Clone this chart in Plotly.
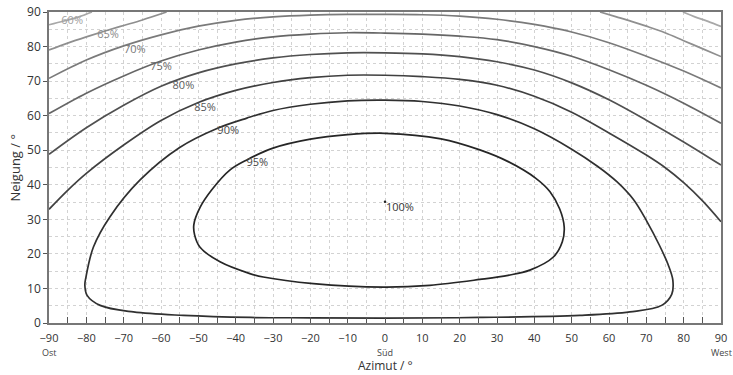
import plotly.graph_objects as go

# ---- data (azimuth in deg, tilt in deg) ----
AZ_60 = [-90, -86, -82, -78.5, None, 79.8, 83, 86.5, 90]
TILT_60 = [86.3, 87.4, 88.6, 90, None, 90, 88.6, 87.3, 85.8]

AZ_65 = [-90, -85, -80, -75, -70, -65, -58.5, None, 57.6, 62, 66, 70, 75, 80, 85, 90]
TILT_65 = [79.0, 81.0, 82.8, 84.5, 86.1, 87.7, 90, None, 90, 88.6, 87.3, 85.9, 84.0, 81.7, 79.4, 77.1]

AZ_70 = [-90, -80, -70, -60, -50, -40, -30, -20, -10, 0, 10, 20, 30, 40, 50, 60, 70, 80, 90]
TILT_70 = [70.8, 76.1, 80.2, 83.4, 85.9, 87.6, 88.6, 89.1, 89.3, 89.3, 89.2, 88.8, 87.9, 86.4, 84.2, 81.1, 77.2, 72.9, 68.0]

AZ_75 = [-90, -80, -70, -60, -50, -40, -30, -20, -10, 0, 10, 20, 30, 40, 50, 60, 70, 80, 90]
TILT_75 = [60.6, 66.5, 71.5, 75.8, 79.0, 81.3, 82.8, 83.6, 84.0, 83.9, 83.6, 83.0, 82.0, 80.0, 77.2, 73.3, 68.8, 63.6, 57.8]

AZ_80 = [-90, -80, -70, -60, -50, -40, -30, -20, -10, 0, 10, 20, 30, 40, 50, 60, 70, 80, 90]
TILT_80 = [48.8, 56.5, 63.0, 68.5, 72.4, 75.0, 76.7, 77.7, 78.2, 78.2, 77.9, 77.1, 75.6, 73.2, 69.5, 64.6, 58.7, 52.4, 45.7]

AZ_85 = [-90, -85, -80, -70, -60, -50, -40, -30, -20, -10, 0, 10, 20, 30, 40, 50, 60, 70, 75, 80, 85, 90]
TILT_85 = [32.9, 38.4, 43.3, 51.5, 58.6, 63.8, 67.3, 69.6, 71.0, 71.7, 71.7, 71.3, 70.5, 68.8, 65.6, 61.0, 55.0, 48.6, 45.0, 40.6, 35.4, 29.3]

AZ_90 = [-36, -54, -67.4, -76.3, -79.8, -80.4, -80.1, -78.1, -73.7, -65.6, -55, -45, -37, -30, -20, -10, 0, 10, 20, 30, 40, 50, 57,
         62.1, 66.5, 70.1, 73.5, 75.8, 77.1, 76.8, 74.1, 65.6, 52.2, 25.4, 0, -20, -36]
TILT_90 = [1.6, 2.2, 3.2, 5.1, 8.0, 11.0, 13.3, 22.0, 30.7, 41.4, 50.8, 56.3, 59.3, 61.5, 63.3, 64.3, 64.5, 64.1, 62.8, 60.3, 56.2, 50.3, 45.3,
           40.9, 35.8, 29.5, 22.5, 17.0, 12.4, 8.3, 5.1, 3.2, 2.2, 1.6, 1.4, 1.5, 1.6]

AZ_95 = [0, -10, -20, -30, -37, -41.5, -46.5, -49.5, -51.2, -51.0, -49.6, -44.2, -36.2, -32.6, -19.2, -0.4, 12, 25.4, 33, 38.8, 45.1, 47.5, 48, 46.8,
         44.2, 40.5, 33, 25.4, 15, 0]
TILT_95 = [54.9, 54.5, 53.2, 50.6, 47.2, 44.3, 38.4, 33.5, 28.5, 25.5, 22.0, 17.7, 14.3, 13.3, 11.4, 10.4, 10.9, 12.6, 13.8, 15.3, 19.1, 23.5, 27.8, 33.0,
           38.0, 41.8, 46.7, 50.1, 53.3, 54.9]

LEVELS = ["60%", "65%", "70%", "75%", "80%", "85%", "90%", "95%"]
LABEL_AZ = [-83.8, -74.2, -67.0, -60.0, -54.0, -48.2, -42.0, -34.2]
LABEL_TILT = [87.3, 83.4, 79.0, 74.1, 68.4, 62.1, 55.4, 46.1]

PEAK_AZ = [0]
PEAK_TILT = [35.1]
PEAK_LABEL = "100%"
PEAK_LABEL_AZ = 4.0
PEAK_LABEL_TILT = 33.2

X_TICKS = list(range(-90, 91, 10))
Y_TICKS = list(range(0, 91, 10))
DIRECTIONS = ["Ost", "Süd", "West"]
DIRECTION_AZ = [-90, 0, 90]
DIRECTION_ANCHOR = ["center", "center", "right"]
DIRECTION_SHIFT = [0, 0, 12]

# ---- styling ----
LINE_COLORS = ["#a8a8a8", "#8f8f8f", "#7a7a7a", "#666666", "#505050", "#404040", "#303030", "#262626"]
LABEL_COLORS = ["#a0a0a0", "#8a8a8a", "#777777", "#6a6a6a", "#5e5e5e", "#555555", "#4a4a4a", "#444444"]
FONT = "Open Sans"

fig = go.Figure()
series = [(AZ_60, TILT_60), (AZ_65, TILT_65), (AZ_70, TILT_70), (AZ_75, TILT_75),
          (AZ_80, TILT_80), (AZ_85, TILT_85), (AZ_90, TILT_90), (AZ_95, TILT_95)]
for (ax, ty), name, col in zip(series, LEVELS, LINE_COLORS):
    fig.add_trace(go.Scatter(x=ax, y=ty, mode="lines", name=name,
                             line=dict(color=col, width=1.7, shape="spline", smoothing=1.0),
                             connectgaps=False, hoverinfo="skip"))

fig.add_trace(go.Scatter(x=PEAK_AZ, y=PEAK_TILT, mode="markers",
                         marker=dict(size=2.5, color="#222222"), hoverinfo="skip"))

fig.add_trace(go.Scatter(x=LABEL_AZ, y=LABEL_TILT, mode="text", text=LEVELS,
                         textfont=dict(family=FONT, size=11, color=LABEL_COLORS),
                         hoverinfo="skip"))
fig.add_trace(go.Scatter(x=[PEAK_LABEL_AZ], y=[PEAK_LABEL_TILT], mode="text", text=[PEAK_LABEL],
                         textfont=dict(family=FONT, size=11, color="#333333"), hoverinfo="skip"))

annotations = []
for lab, az, anc, sh in zip(DIRECTIONS, DIRECTION_AZ, DIRECTION_ANCHOR, DIRECTION_SHIFT):
    annotations.append(dict(x=az, y=0, xref="x", yref="paper", text=lab, showarrow=False,
                            xanchor=anc, xshift=sh, yanchor="middle", borderpad=0,
                            yshift=-29.5, font=dict(family=FONT, size=9, color="#444444")))
annotations.append(dict(x=0, y=0, xref="x", yref="paper", text="Azimut / °", showarrow=False,
                        yanchor="bottom", yshift=-52, borderpad=0,
                        font=dict(family=FONT, size=12, color="#333333")))
annotations.append(dict(x=0, y=0.5, xref="paper", yref="paper", text="Neigung / °", showarrow=False,
                        xanchor="center", xshift=-35, yshift=0, textangle=-90,
                        font=dict(family=FONT, size=13, color="#333333")))

fig.update_layout(
    width=733, height=375,
    margin=dict(l=49, r=12, t=12, b=52, autoexpand=False),
    plot_bgcolor="white", paper_bgcolor="white",
    showlegend=False,
    annotations=annotations,
    font=dict(family=FONT, size=12, color="#333333"),
)
fig.update_xaxes(
    range=[-90, 90], tickvals=X_TICKS, ticks="inside", ticklen=6, tickcolor="#555555", tickwidth=1,
    showline=True, linecolor="#777777", linewidth=1.5, mirror=True, automargin=False,
    showgrid=True, gridcolor="#d2d2d2", griddash="dot", gridwidth=1,
    minor=dict(dtick=5, ticks="inside", ticklen=6, tickcolor="#555555", showgrid=True,
               gridcolor="#d2d2d2", griddash="dot", gridwidth=1),
    zeroline=False, tickfont=dict(family=FONT, size=11, color="#333333"),
    ticklabelstandoff=4,
)
fig.update_yaxes(
    range=[0, 90], tickvals=Y_TICKS, ticks="outside", ticklen=4, tickcolor="#555555",
    showline=True, linecolor="#777777", linewidth=1.5, mirror=True, automargin=False,
    showgrid=True, gridcolor="#d2d2d2", griddash="dot", gridwidth=1,
    minor=dict(dtick=5, showgrid=True, gridcolor="#d2d2d2", griddash="dot", gridwidth=1),
    zeroline=False, tickfont=dict(family=FONT, size=12, color="#333333"),
)

fig.write_html("out.html", config={"displayModeBar": False},
               post_script="document.body.style.margin='0';document.body.style.padding='0';"
                           "document.documentElement.style.overflow='hidden';")
